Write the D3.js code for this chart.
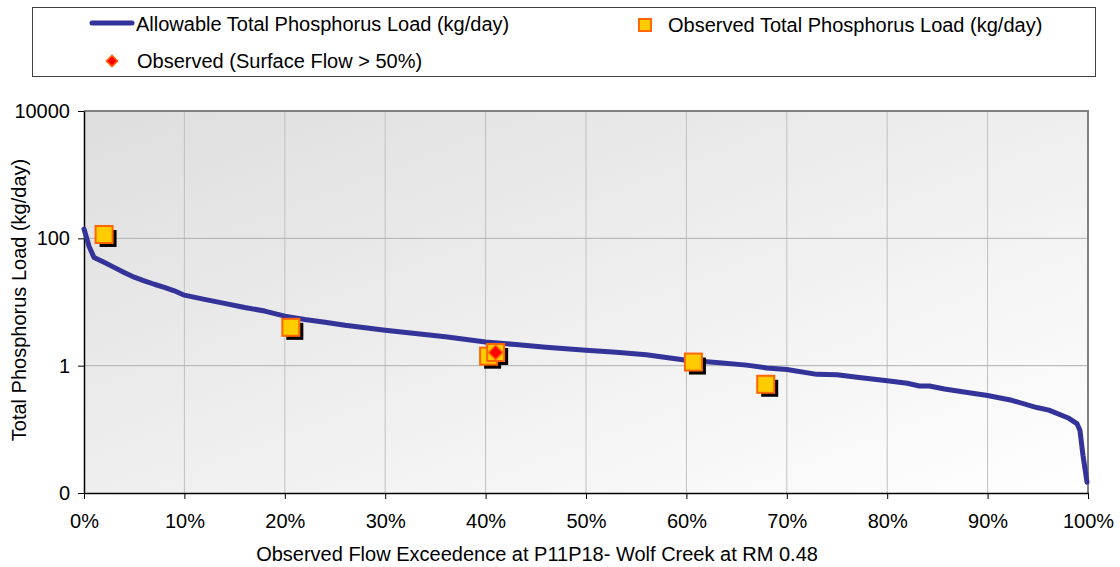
<!DOCTYPE html>
<html>
<head>
<meta charset="utf-8">
<script src="https://cdn.jsdelivr.net/npm/d3@7"></script>
<style>
  body { margin: 0; background: #fff; }
  text { font-family: "Liberation Sans", Arial, sans-serif; fill: #000; }
</style>
</head>
<body>
<div id="chart"></div>
<script>
// load duration curve (exceedence %, kg/day)
var flowPct = [0, 0.5, 1, 2, 3, 4, 5, 6, 7, 8, 9, 10, 12, 14, 16, 18, 20, 22, 24, 26, 28, 30,
  33, 36, 40, 43, 46, 50, 53, 56, 60, 63, 66, 68, 70, 73, 75, 77, 80, 82, 83.2, 84.2, 85.7,
  88, 90, 92.4, 94.9, 96.1, 98.1, 98.9, 99.2, 99.5, 99.9];
var allowableLoad = [140, 75, 50, 42, 35, 29, 24.5, 21.5, 19, 17, 15, 12.8, 11, 9.5, 8.2, 7.2,
  6.0, 5.3, 4.8, 4.3, 3.95, 3.6, 3.2, 2.85, 2.35, 2.15, 1.95, 1.75, 1.62, 1.48, 1.22, 1.12,
  1.02, 0.92, 0.87, 0.73, 0.72, 0.66, 0.58, 0.53, 0.48, 0.48, 0.43, 0.38, 0.34, 0.286, 0.22,
  0.2, 0.149, 0.123, 0.096, 0.039, 0.0148];

var obsPct = [2.0, 20.6, 40.3, 41.0, 60.7, 67.9];
var obsLoad = [115, 4.0, 1.41, 1.61, 1.14, 0.51];

var surfPct = [41.0];
var surfLoad = [1.61];

var yTicks = [0.01, 1, 100, 10000];
var yTickLabels = ["0", "1", "100", "10000"];
var xTicks = [0, 10, 20, 30, 40, 50, 60, 70, 80, 90, 100];

var W = 1120, H = 567;
var svg = d3.select("#chart").append("svg").attr("width", W).attr("height", H);

var x = d3.scaleLinear().domain([0, 100]).range([84, 1088]);
var y = d3.scaleLog().domain([0.01, 10000]).range([493, 111]);

// plot background gradient
var defs = svg.append("defs");
var grad = defs.append("linearGradient").attr("id", "bg")
  .attr("x1", 0).attr("y1", 0).attr("x2", 1).attr("y2", 1);
grad.append("stop").attr("offset", "0%").attr("stop-color", "#dedede");
grad.append("stop").attr("offset", "100%").attr("stop-color", "#ffffff");

svg.append("rect")
  .attr("x", x(0)).attr("y", y(10000))
  .attr("width", x(100) - x(0)).attr("height", y(0.01) - y(10000))
  .attr("fill", "url(#bg)");

// grid
svg.append("g").selectAll("line").data(xTicks.slice(1, -1)).enter().append("line")
  .attr("x1", d => x(d)).attr("x2", d => x(d))
  .attr("y1", y(10000)).attr("y2", y(0.01))
  .attr("stroke", "#c0c0c0").attr("stroke-width", 1);
svg.append("g").selectAll("line").data(yTicks.slice(1, -1)).enter().append("line")
  .attr("x1", x(0)).attr("x2", x(100))
  .attr("y1", d => y(d)).attr("y2", d => y(d))
  .attr("stroke", "#b0b0b0").attr("stroke-width", 1);

// top/right frame
svg.append("path")
  .attr("d", "M" + x(0) + "," + y(10000) + "H" + x(100) + "V" + y(0.01))
  .attr("fill", "none").attr("stroke", "#808080").attr("stroke-width", 2);

// axes
var xAxis = d3.axisBottom(x).tickValues(xTicks).tickSize(6).tickSizeOuter(0)
  .tickFormat(d => d + "%");
var gx = svg.append("g").attr("transform", "translate(0," + y(0.01) + ")").call(xAxis);
gx.select(".domain").attr("stroke", "#000").attr("stroke-width", 1.5);
gx.selectAll(".tick line").attr("stroke", "#000");
gx.selectAll(".tick text").attr("font-size", 20).attr("dy", "1.3em")
  .style("font-family", "'Liberation Sans', Arial, sans-serif");

var yAxis = d3.axisLeft(y).tickValues(yTicks).tickSize(6).tickSizeOuter(0)
  .tickFormat((d, i) => yTickLabels[i]);
var gy = svg.append("g").attr("transform", "translate(" + x(0) + ",0)").call(yAxis);
gy.select(".domain").attr("stroke", "#000").attr("stroke-width", 1.5);
gy.selectAll(".tick line").attr("stroke", "#000");
gy.selectAll(".tick text").attr("font-size", 20).attr("x", -14)
  .style("font-family", "'Liberation Sans', Arial, sans-serif");

// axis titles
svg.append("text").attr("x", 537).attr("y", 561).attr("text-anchor", "middle")
  .attr("font-size", 20).text("Observed Flow Exceedence at P11P18- Wolf Creek at RM 0.48");
svg.append("text").attr("transform", "translate(26,300) rotate(-90)")
  .attr("text-anchor", "middle").attr("font-size", 20)
  .text("Total Phosphorus Load (kg/day)");

// allowable curve
var line = d3.line().x(d => x(d[0])).y(d => y(d[1]));
svg.append("path")
  .datum(flowPct.map((p, i) => [p, allowableLoad[i]]))
  .attr("d", line)
  .attr("fill", "none").attr("stroke", "#333399").attr("stroke-width", 5)
  .attr("stroke-linejoin", "round").attr("stroke-linecap", "round");

// observed squares with shadow
var obs = obsPct.map((p, i) => [p, obsLoad[i]]);
var sq = 17;
svg.append("g").selectAll("rect").data(obs).enter().append("rect")
  .attr("x", d => x(d[0]) - sq / 2 + 4).attr("y", d => y(d[1]) - sq / 2 + 4)
  .attr("width", sq).attr("height", sq).attr("fill", "#000");
svg.append("g").selectAll("rect").data(obs).enter().append("rect")
  .attr("x", d => x(d[0]) - sq / 2).attr("y", d => y(d[1]) - sq / 2)
  .attr("width", sq).attr("height", sq)
  .attr("fill", "#ffcc00").attr("stroke", "#ff6600").attr("stroke-width", 2);

// surface flow diamonds
svg.append("g").selectAll("path").data(surfPct.map((p, i) => [p, surfLoad[i]])).enter()
  .append("path")
  .attr("d", d3.symbol().type(d3.symbolSquare).size(100))
  .attr("transform", d => "translate(" + x(d[0]) + "," + y(d[1]) + ") rotate(45)")
  .attr("fill", "#ff0000").attr("stroke", "#ff6600").attr("stroke-width", 1.5);

// legend
var lg = svg.append("g");
lg.append("rect").attr("x", 32.5).attr("y", 7.5).attr("width", 1063).attr("height", 69)
  .attr("fill", "#fff").attr("stroke", "#404040").attr("stroke-width", 1);
lg.append("line").attr("x1", 92).attr("x2", 132).attr("y1", 23).attr("y2", 23)
  .attr("stroke", "#333399").attr("stroke-width", 5).attr("stroke-linecap", "round");
lg.append("text").attr("x", 136).attr("y", 24).attr("dy", "0.35em").attr("font-size", 20)
  .text("Allowable Total Phosphorus Load (kg/day)");
lg.append("rect").attr("x", 639).attr("y", 19).attr("width", 12).attr("height", 12)
  .attr("fill", "#ffcc00").attr("stroke", "#ff6600").attr("stroke-width", 2);
lg.append("text").attr("x", 668).attr("y", 25).attr("dy", "0.35em").attr("font-size", 20)
  .text("Observed Total Phosphorus Load (kg/day)");
lg.append("path").attr("d", d3.symbol().type(d3.symbolSquare).size(64))
  .attr("transform", "translate(112,61) rotate(45)")
  .attr("fill", "#ff0000").attr("stroke", "#ff6600").attr("stroke-width", 1.5);
lg.append("text").attr("x", 137).attr("y", 61).attr("dy", "0.35em").attr("font-size", 20)
  .text("Observed (Surface Flow > 50%)");
</script>
</body>
</html>
